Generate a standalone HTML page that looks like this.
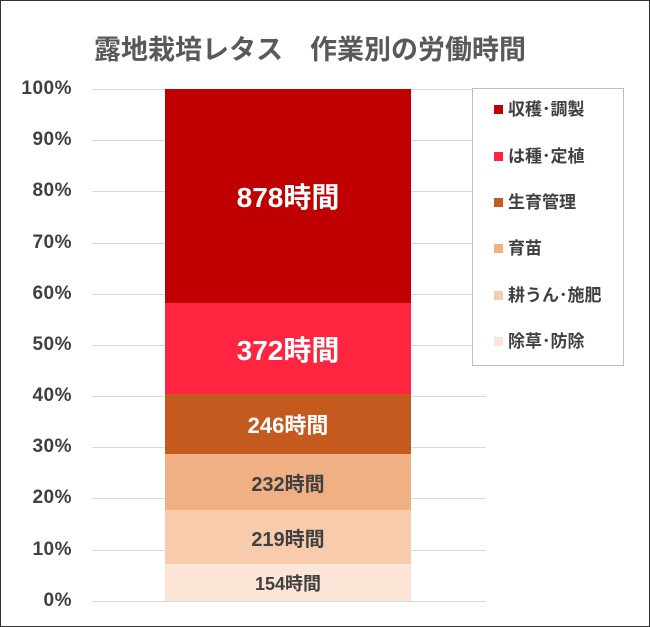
<!DOCTYPE html>
<html><head><meta charset="utf-8"><style>
body{margin:0;width:650px;height:627px;background:#fff;font-family:"Liberation Sans","Noto Sans CJK JP",sans-serif;font-weight:bold;color:#404040;overflow:hidden}
#f{position:absolute;left:0;top:0;width:648px;height:625px;border:1px solid #333}
.a{position:absolute}
.g{position:absolute;left:92px;width:394px;height:1px;background:#d9d9d9}
.t{position:absolute;left:0;width:72px;text-align:right;font-size:19px;letter-spacing:0.5px;line-height:20px}
.s{position:absolute;left:165px;width:246px;display:flex;align-items:center;justify-content:center}
.li{position:absolute;left:494px;font-size:17px;line-height:18px}
.li i{display:inline-block;width:9px;height:9px;margin-right:5px;vertical-align:1px}
</style></head><body>
<div id="f"></div>
<div class="a" style="left:0;width:620px;top:28px;text-align:center;font-size:27px;color:#595959;white-space:nowrap">露地栽培レタス　作業別の労働時間</div>
<div class="g" style="top:89px"></div><div class="g" style="top:140px"></div><div class="g" style="top:191px"></div><div class="g" style="top:243px"></div><div class="g" style="top:294px"></div><div class="g" style="top:345px"></div><div class="g" style="top:396px"></div><div class="g" style="top:447px"></div><div class="g" style="top:498px"></div><div class="g" style="top:550px"></div><div class="g" style="top:601px"></div>
<div class="t" style="top:79px">100%</div><div class="t" style="top:130px">90%</div><div class="t" style="top:181px">80%</div><div class="t" style="top:233px">70%</div><div class="t" style="top:284px">60%</div><div class="t" style="top:335px">50%</div><div class="t" style="top:386px">40%</div><div class="t" style="top:437px">30%</div><div class="t" style="top:488px">20%</div><div class="t" style="top:540px">10%</div><div class="t" style="top:591px">0%</div>
<div class="s" style="top:89px;height:214px;background:#c00000;color:#fff;font-size:28px">878時間</div>
<div class="s" style="top:303px;height:91px;background:#ff2540;color:#fff;font-size:28px">372時間</div>
<div class="s" style="top:394px;height:60px;background:#c55a1f;color:#fff;font-size:22px">246時間</div>
<div class="s" style="top:454px;height:56px;background:#f0b084;color:#404040;font-size:20px">232時間</div>
<div class="s" style="top:510px;height:54px;background:#f8cbad;color:#404040;font-size:20px">219時間</div>
<div class="s" style="top:564px;height:37px;background:#fce4d6;color:#404040;font-size:18px">154時間</div>
<div class="a" style="left:472px;top:88px;width:150px;height:276px;border:1px solid #bfbfbf;background:#fff"></div>
<div class="li" style="top:101px"><i style="background:#c00000"></i>収穫･調製</div>
<div class="li" style="top:148px"><i style="background:#ff2540"></i>は種･定植</div>
<div class="li" style="top:194px"><i style="background:#c55a1f"></i>生育管理</div>
<div class="li" style="top:240px"><i style="background:#f0b084"></i>育苗</div>
<div class="li" style="top:287px"><i style="background:#f8cbad"></i>耕うん･施肥</div>
<div class="li" style="top:333px"><i style="background:#fce4d6"></i>除草･防除</div>
</body></html>
